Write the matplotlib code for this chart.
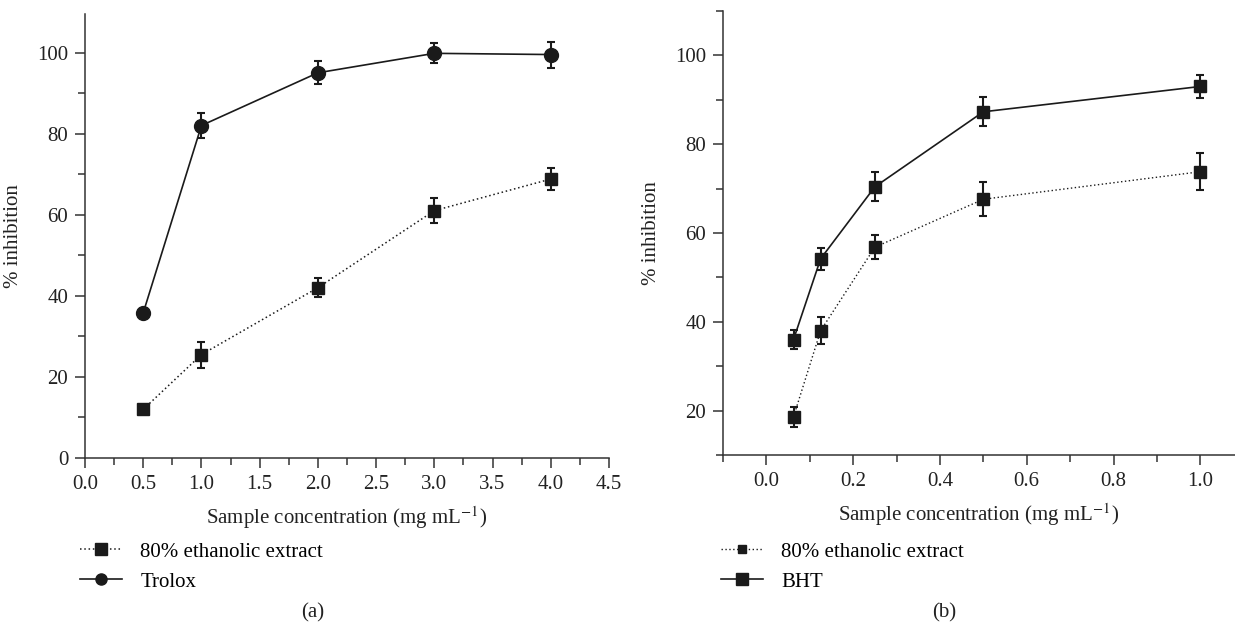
import matplotlib
matplotlib.use("Agg")
import matplotlib.pyplot as plt
from matplotlib.ticker import MultipleLocator
from matplotlib.lines import Line2D

plt.rcParams['font.family'] = ['Liberation Serif', 'DejaVu Serif']
plt.rcParams['mathtext.fontset'] = 'stix'

# Panel (a) data
conc_a = [0.5, 1.0, 2.0, 3.0, 4.0]
extract_a = [12.0, 25.5, 42.0, 61.0, 68.8]
extract_a_err = [1.0, 3.2, 2.3, 3.0, 2.6]
trolox = [35.8, 82.0, 95.0, 99.8, 99.5]
trolox_err = [1.0, 3.2, 2.8, 2.5, 3.2]

# Panel (b) data
conc_b = [0.0625, 0.125, 0.25, 0.5, 1.0]
extract_b = [18.6, 38.0, 56.8, 67.6, 73.8]
extract_b_err = [2.3, 3.0, 2.7, 3.8, 4.2]
bht = [36.0, 54.2, 70.4, 87.3, 93.0]
bht_err = [2.2, 2.5, 3.3, 3.3, 2.5]

xticks_a = [0.0, 0.5, 1.0, 1.5, 2.0, 2.5, 3.0, 3.5, 4.0, 4.5]
yticks_a = [0, 20, 40, 60, 80, 100]
xticks_b = [0.0, 0.2, 0.4, 0.6, 0.8, 1.0]
yticks_b = [20, 40, 60, 80, 100]

W, H = 1235, 626
fig = plt.figure(figsize=(W / 100, H / 100), dpi=100)

ink = '#1a1a1a'
axc = '#333333'
txt = '#222222'
fs = 15
dotted = (0, (1.0, 1.8))


def style(ax):
    for s in ['top', 'right']:
        ax.spines[s].set_visible(False)
    for s in ['left', 'bottom']:
        ax.spines[s].set_color(axc)
        ax.spines[s].set_linewidth(1.1)
    ax.tick_params(which='major', direction='out', length=7, width=1.1, color=axc,
                   labelsize=fs, labelcolor=txt, pad=5)
    ax.tick_params(which='minor', direction='out', length=5, width=1.1, color=axc)


def legend(ax, handles, labels, x):
    ax.legend(handles, labels, loc='upper left', bbox_to_anchor=(x / W, 1 - 542 / H),
              bbox_transform=fig.transFigure, frameon=False, fontsize=fs,
              handlelength=2.0, handletextpad=0.9, labelspacing=0.5,
              borderaxespad=0, borderpad=0)


# Panel (a)
axa = fig.add_axes([85 / W, 1 - 458 / H, 524 / W, 444 / H])
style(axa)
axa.errorbar(conc_a, extract_a, yerr=extract_a_err, color=ink, linestyle=dotted,
             linewidth=1.1, marker='s', markersize=9, capsize=3, elinewidth=1.5,
             capthick=1.5)
axa.errorbar(conc_a, trolox, yerr=trolox_err, color=ink, linestyle='-',
             linewidth=1.2, marker='o', markersize=10, capsize=3, elinewidth=1.5,
             capthick=1.5)
axa.set_xlim(0, 4.5)
axa.set_ylim(0, 109.5)
axa.set_xticks(xticks_a)
axa.set_xticklabels([f'{v:.1f}' for v in xticks_a])
axa.set_yticks(yticks_a)
axa.xaxis.set_minor_locator(MultipleLocator(0.25))
axa.yaxis.set_minor_locator(MultipleLocator(10))
axa.set_xlabel('Sample concentration (mg mL$^{-1}$)', fontsize=fs, color=txt, labelpad=8)
axa.set_ylabel('% inhibition', fontsize=fs, color=txt, labelpad=10)
legend(axa,
       [Line2D([], [], color=ink, linestyle=dotted, linewidth=1.1, marker='s', markersize=8),
        Line2D([], [], color=ink, linestyle='-', linewidth=1.2, marker='o', markersize=8)],
       ['80% ethanolic extract', 'Trolox'], 80)
fig.text(313 / W, 1 - 613 / H, '(a)', ha='center', va='center', fontsize=fs, color=txt)

# Panel (b)
axb = fig.add_axes([723 / W, 1 - 455 / H, 512 / W, 444 / H])
style(axb)
axb.errorbar(conc_b, extract_b, yerr=extract_b_err, color=ink, linestyle=dotted,
             linewidth=1.0, marker='s', markersize=9, capsize=3, elinewidth=1.5,
             capthick=1.5)
axb.errorbar(conc_b, bht, yerr=bht_err, color=ink, linestyle='-',
             linewidth=1.2, marker='s', markersize=9, capsize=3, elinewidth=1.5,
             capthick=1.5)
axb.set_xlim(-0.1, 1.08)
axb.set_ylim(10, 110)
axb.set_xticks(xticks_b)
axb.set_xticklabels([f'{v:.1f}' for v in xticks_b])
axb.set_yticks(yticks_b)
axb.xaxis.set_minor_locator(MultipleLocator(0.1))
axb.yaxis.set_minor_locator(MultipleLocator(10))
axb.set_xlabel('Sample concentration (mg mL$^{-1}$)', fontsize=fs, color=txt, labelpad=8)
axb.set_ylabel('% inhibition', fontsize=fs, color=txt, labelpad=10)
legend(axb,
       [Line2D([], [], color=ink, linestyle=dotted, linewidth=1.0, marker='s', markersize=6),
        Line2D([], [], color=ink, linestyle='-', linewidth=1.2, marker='s', markersize=9)],
       ['80% ethanolic extract', 'BHT'], 721)
fig.text(944 / W, 1 - 613 / H, '(b)', ha='center', va='center', fontsize=fs, color=txt)

fig.savefig('out.png', dpi=100)
